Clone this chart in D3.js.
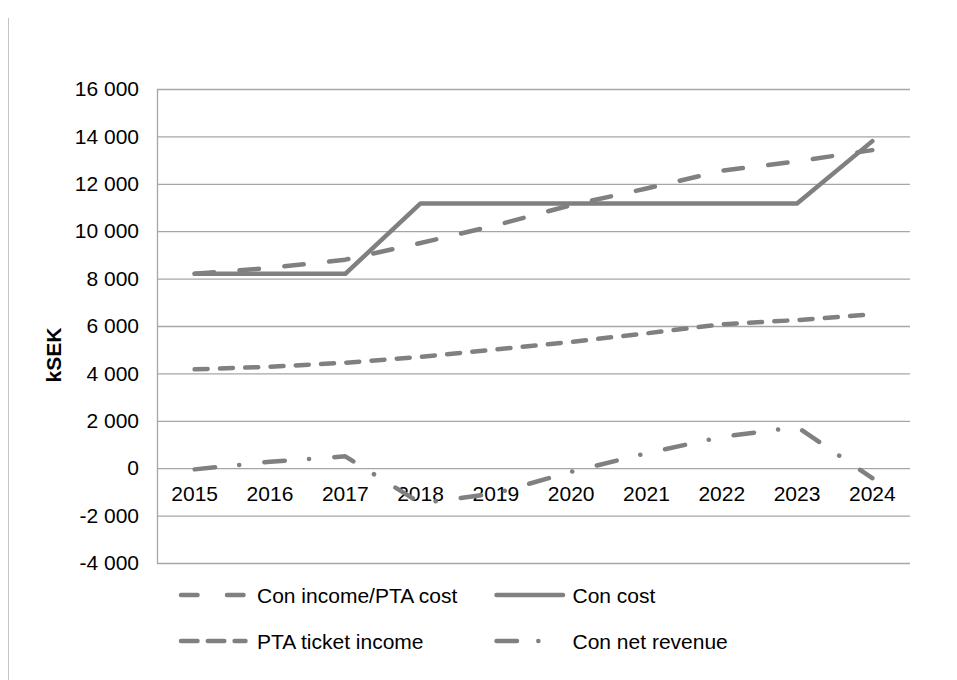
<!DOCTYPE html>
<html>
<head>
<meta charset="utf-8">
<script src="https://cdn.jsdelivr.net/npm/d3@7"></script>
<style>
  body { margin: 0; background: #fff; }
  svg { display: block; font-family: 'Liberation Sans', Arial, sans-serif; }
</style>
</head>
<body>
<div id="chart"></div>
<script>
const years = ['2015', '2016', '2017', '2018', '2019', '2020', '2021', '2022', '2023', '2024'];
const conIncome = [8200, 8450, 8800, 9500, 10250, 11100, 11800, 12550, 12950, 13420];
const conCost = [8200, 8200, 8200, 11170, 11170, 11170, 11170, 11170, 11170, 13800];
const ptaTicketIncome = [4170, 4280, 4450, 4700, 5010, 5330, 5690, 6070, 6250, 6490];
const conNetRevenue = [-50, 270, 500, -1480, -1060, -150, 630, 1320, 1740, -420];
const yTicks = [-4000, -2000, 0, 2000, 4000, 6000, 8000, 10000, 12000, 14000, 16000];

const series = [
  { name: 'Con income/PTA cost', values: conIncome, dash: '19.5,25.5', legendDash: '16.5,29.5' },
  { name: 'Con cost', values: conCost, dash: null, legendDash: null },
  { name: 'PTA ticket income', values: ptaTicketIncome, dash: '13,12.3', legendDash: '16.5,10.3' },
  { name: 'Con net revenue', values: conNetRevenue, dash: '20.5,24.25,0.1,25.25', legendDash: '20.5,21.3,0.1,100' }
];

const width = 957;
const height = 680;
const plotLeft = 157;
const plotRight = 910;
const plotTop = 89;
const plotBottom = 563;
const lineColor = '#808080';
const gridColor = '#a6a6a6';

const svg = d3.select('#chart').append('svg')
  .attr('width', width)
  .attr('height', height);

svg.append('rect')
  .attr('width', width).attr('height', height)
  .attr('fill', '#fff');

// frame edge on the left
svg.append('line')
  .attr('x1', 8.5).attr('x2', 8.5)
  .attr('y1', 18).attr('y2', height)
  .attr('stroke', '#c4c4c4');

const x = d3.scaleBand().domain(years).range([plotLeft, plotRight]);
const y = d3.scaleLinear().domain([-4000, 16000]).range([plotBottom, plotTop]);
const cx = d => x(d) + x.bandwidth() / 2;

const locale = d3.formatLocale({ decimal: ',', thousands: ' ', grouping: [3], currency: ['', ''], minus: '-' });
const fmt = locale.format(',d');

const yAxis = svg.append('g')
  .attr('transform', `translate(${plotLeft},0)`)
  .call(d3.axisLeft(y)
    .tickValues(yTicks)
    .tickSize(-(plotRight - plotLeft))
    .tickSizeOuter(0)
    .tickPadding(18)
    .tickFormat(fmt));
yAxis.selectAll('line').attr('stroke', gridColor).attr('stroke-width', 1.3);
yAxis.select('.domain').attr('stroke', gridColor).attr('stroke-width', 1.3);
yAxis.selectAll('text')
  .attr('fill', '#000')
  .style('font-size', '21px');

const xAxis = svg.append('g')
  .attr('transform', `translate(0,${y(0)})`)
  .call(d3.axisBottom(x).tickSize(0).tickPadding(18));
xAxis.select('.domain').remove();
xAxis.selectAll('text')
  .attr('fill', '#000')
  .style('font-size', '21px');

svg.append('text')
  .attr('transform', 'translate(61,355) rotate(-90)')
  .attr('text-anchor', 'middle')
  .style('font-size', '21px')
  .style('font-weight', 'bold')
  .text('kSEK');

const line = d3.line()
  .x((d, i) => cx(years[i]))
  .y(d => y(d));

svg.append('g').selectAll('path')
  .data(series).enter().append('path')
    .attr('d', d => line(d.values))
    .attr('fill', 'none')
    .attr('stroke', lineColor)
    .attr('stroke-width', 4.5)
    .attr('stroke-linecap', 'round')
    .attr('stroke-linejoin', 'round')
    .attr('stroke-dasharray', d => d.dash);

// legend, two rows of two
const legendPos = [
  { x: 181, y: 595, len: 64.5 }, { x: 496.5, y: 595, len: 66.5 },
  { x: 181, y: 641, len: 64.5 }, { x: 496.5, y: 641, len: 42.5 }
];
const legend = svg.append('g').selectAll('g')
  .data(series).enter().append('g')
    .attr('transform', (d, i) => `translate(${legendPos[i].x},${legendPos[i].y})`);
legend.append('line')
  .attr('x1', 0).attr('x2', (d, i) => legendPos[i].len)
  .attr('y1', 0).attr('y2', 0)
  .attr('stroke', lineColor)
  .attr('stroke-width', 4.5)
  .attr('stroke-linecap', 'round')
  .attr('stroke-dasharray', d => d.legendDash);
legend.append('text')
  .attr('x', 76)
  .attr('y', 7.5)
  .style('font-size', '21px')
  .text(d => d.name);
</script>
</body>
</html>
